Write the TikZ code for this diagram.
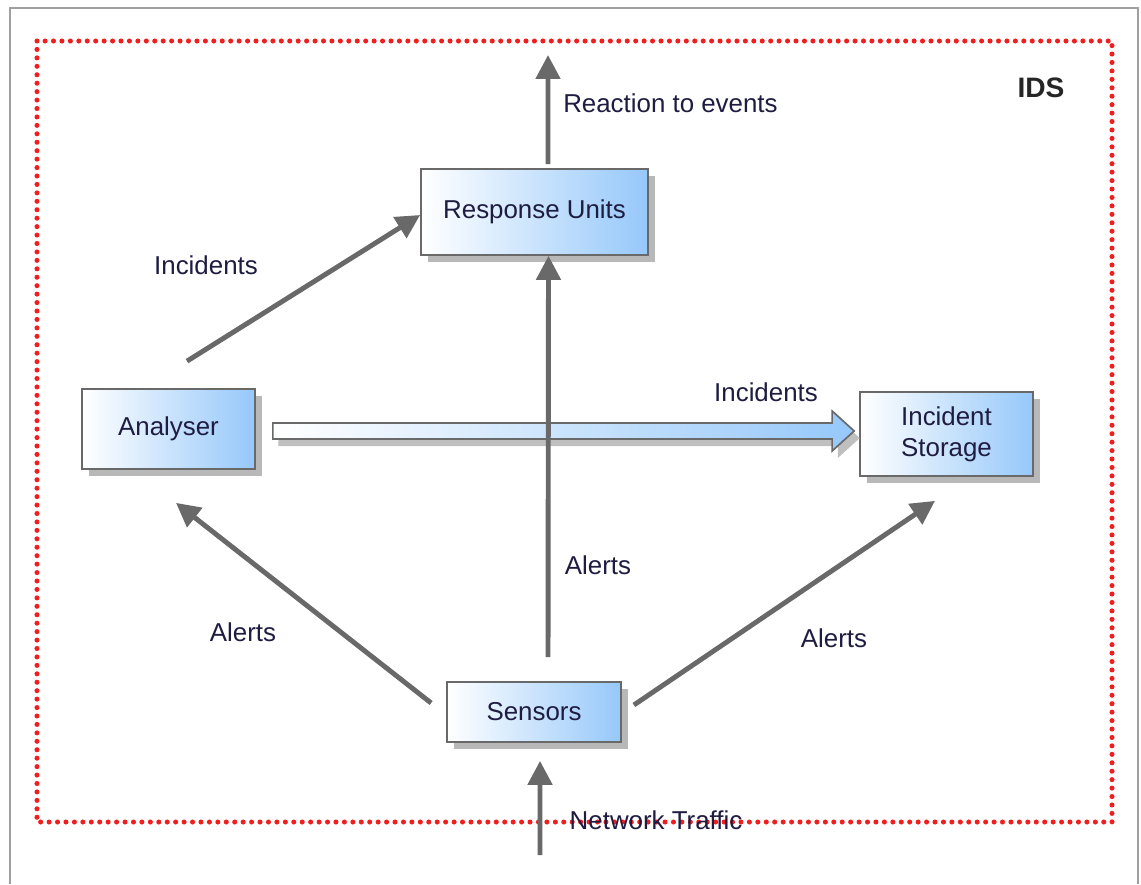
\documentclass[tikz,border=0pt]{standalone}
\usepackage{fontspec}
\setmainfont{Liberation Sans}
\usetikzlibrary{arrows.meta,shadows,calc}
\definecolor{ink}{RGB}{30,28,65}
\definecolor{edge}{RGB}{105,105,105}
\definecolor{frame}{RGB}{160,160,160}
\definecolor{boxblue}{RGB}{150,200,250}
\definecolor{dotred}{RGB}{240,30,30}
\begin{document}
\begin{tikzpicture}[x=0.025cm,y=-0.025cm,
  lbl/.style={font=\fontsize{18.4}{22}\selectfont, text=ink, inner sep=0pt},
  unit/.style={lbl, draw=edge, line width=1.2pt, left color=white, right color=boxblue,
    align=center, drop shadow={shadow xshift=5pt, shadow yshift=-5pt, fill=black!28, opacity=1}},
  flow/.style={draw=edge, line width=3.5pt, -{Triangle[length=17pt,width=17pt]}}]

% canvas and outer frame
\useasboundingbox (0,0) rectangle (1141,884);
\draw[frame, line width=1.4pt] (10,884) -- (10,8) -- (1138,8) -- (1138,884);

% system boundary
\draw[dotred, line width=3.6pt, line cap=round, dash pattern=on 0pt off 6pt]
  (37,41) rectangle (1112,822);
\node[lbl, font=\fontsize{20}{24}\selectfont\bfseries, text=black!85] (ids) at (1041,88) {IDS};

% components
\node[unit, minimum width=5.675cm, minimum height=2.15cm] (ru) at (534.5,212) {Response Units};
\node[unit, minimum width=4.325cm, minimum height=2cm] (analyser) at (168.5,429) {Analyser};
\node[unit, minimum width=4.325cm, minimum height=2.1cm] (storage) at (946.5,434) {Incident\\Storage};
\node[unit, minimum width=4.35cm, minimum height=1.5cm] (sensors) at (534,712) {Sensors};

% broad incident flow from analyser to storage
\coordinate (bs) at ($(analyser.east)+(17,2)$);
\coordinate (be) at ($(storage.west)+(-5,-3)$);
\path[draw=edge, line width=1.2pt, left color=white, right color=boxblue,
      drop shadow={shadow xshift=4pt, shadow yshift=-5pt, fill=black!25, opacity=1}]
  ($(bs)+(0,-8)$) -- ($(be)+(-22,-8)$) -- ($(be)+(-22,-20)$) -- (be)
  -- ($(be)+(-22,20)$) -- ($(be)+(-22,8)$) -- ($(bs)+(0,8)$) -- cycle;

% flows
\coordinate (out) at (548,55);
\coordinate (traffic) at (540,855);
\draw[flow] ([xshift=0.3375cm,yshift=0.1cm]ru.north) -- (out);
\draw[flow] ([xshift=0.4625cm,yshift=0.675cm]analyser.north) -- ([yshift=-0.075cm]ru.west);
\draw[flow] ([xshift=0.35cm,yshift=0.6cm]sensors.north) -- ([xshift=0.35cm]ru.south);
\draw[flow] ([xshift=-0.375cm,yshift=0.225cm]sensors.west) -- ([xshift=0.1875cm,yshift=-0.825cm]analyser.south);
\draw[flow] ([xshift=0.3cm,yshift=0.175cm]sensors.east) -- ([xshift=-0.2875cm,yshift=-0.6cm]storage.south);
\draw[flow] (traffic) -- ([xshift=0.15cm,yshift=-0.45cm]sensors.south);

% flow labels
\node[lbl, anchor=west] (lreact) at (563,103) {Reaction to events};
\node[lbl] (linc1) at (206,265) {Incidents};
\node[lbl] (linc2) at (766,392) {Incidents};
\node[lbl] (lal1) at (598,565) {Alerts};
\node[lbl] (lal2) at (243,632) {Alerts};
\node[lbl] (lal3) at (834,638) {Alerts};
\node[lbl] (lnet) at (656,820) {Network Traffic};
\end{tikzpicture}
\end{document}
